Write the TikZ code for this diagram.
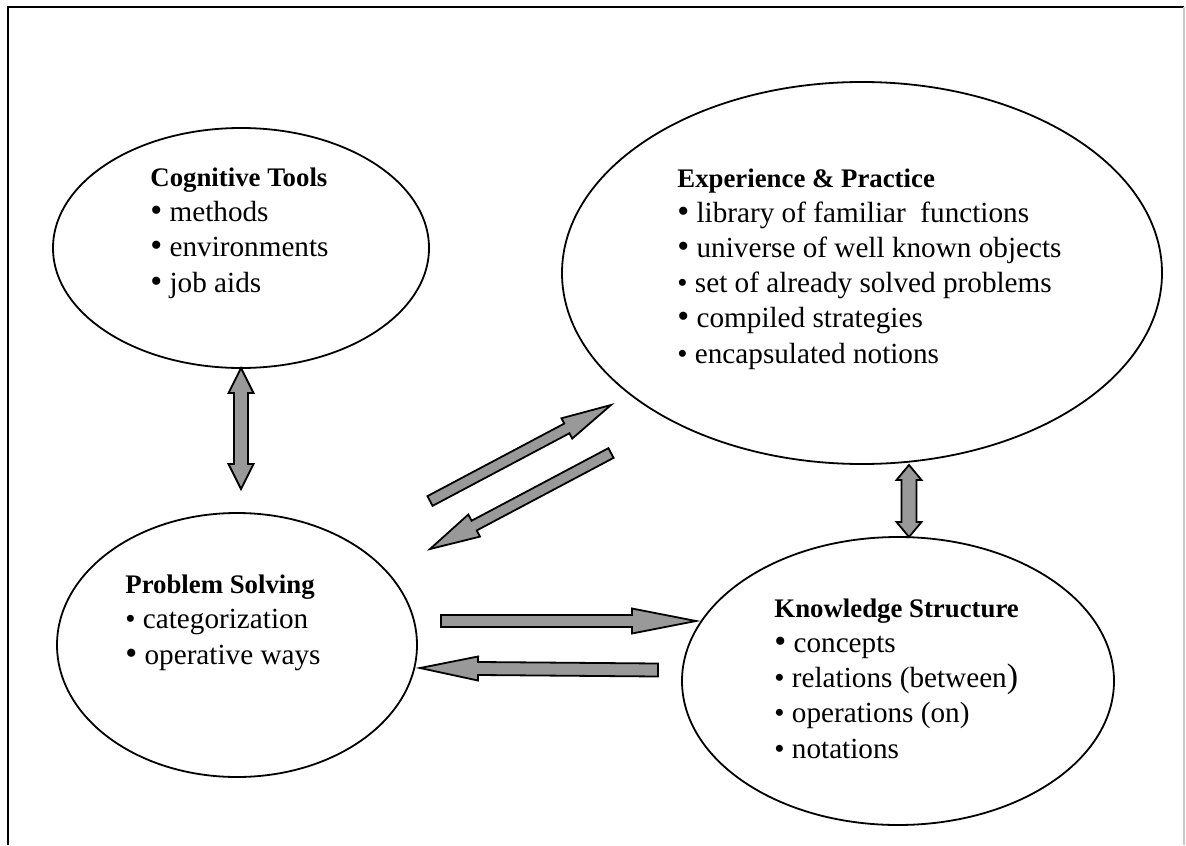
\documentclass[tikz,border=0pt]{standalone}
\usepackage{fontspec}
\setmainfont{Liberation Serif}
\usepackage{tikz}
\usetikzlibrary{calc,shapes.geometric}
\definecolor{arrowgray}{HTML}{999999}
\definecolor{framegray}{HTML}{C8C8C8}

\begin{document}
\begin{tikzpicture}[x=0.5pt, y=-0.5pt,
  blob/.style={ellipse, draw, line width=0.9pt, inner sep=0pt, outer sep=0pt},
  blurb/.style={anchor=base west, align=left, inner sep=0pt, font=\fontsize{14.6}{17.6}\selectfont},
  arrowbody/.style={fill=arrowgray, draw=black, line width=0.9pt}]
  \newcommand{\head}[1]{{\fontsize{13.4}{17.6}\selectfont\bfseries #1}}
  \newcommand{\bul}{\textbullet\ }
  \newcommand{\Bul}{{\fontsize{17}{17}\selectfont\textbullet}\ }
  % tail, tip, half shaft, half head, head length
  \newcommand{\blockarrow}[5]{%
    \coordinate (ah) at ($(#2)!#5!(#1)$);
    \filldraw[arrowbody]
      ($(#1)!#3!90:(#2)$) -- ($(ah)!#3!90:(#2)$) -- ($(ah)!#4!90:(#2)$) -- (#2)
      -- ($(ah)!#4!-90:(#2)$) -- ($(ah)!#3!-90:(#2)$) -- ($(#1)!#3!-90:(#2)$) -- cycle;}
  \newcommand{\twinarrow}[5]{%
    \coordinate (ah) at ($(#1)!#5!(#2)$);
    \coordinate (bh) at ($(#2)!#5!(#1)$);
    \filldraw[arrowbody]
      (#1) -- ($(ah)!#4!90:(#2)$) -- ($(ah)!#3!90:(#2)$) -- ($(bh)!#3!90:(#2)$)
      -- ($(bh)!#4!90:(#2)$) -- (#2) -- ($(bh)!#4!-90:(#2)$) -- ($(bh)!#3!-90:(#2)$)
      -- ($(ah)!#3!-90:(#2)$) -- ($(ah)!#4!-90:(#2)$) -- cycle;}

  \useasboundingbox (0,0) rectangle (1186,845);
  \draw[line width=1pt] (8,845) -- (8,7) -- (1184,7);
  \draw[framegray, line width=0.6pt] (1184,7) -- (1184,845);

  \node[blob, minimum width=188pt, minimum height=120pt] (ct) at (241,248) {};
  \node[blob, minimum width=300pt, minimum height=191pt] (ep) at (862,273) {};
  \node[blob, minimum width=180pt, minimum height=132pt] (ps) at (237,645) {};
  \node[blob, minimum width=216pt, minimum height=144pt] (ks) at (898,681) {};

  % anchored on the last line of each list
  \node[blurb] (ct-text) at (150,292)
    {\head{Cognitive Tools}\\\Bul methods\\\Bul environments\\\Bul job aids};
  \node[blurb] (ep-text) at (677,363)
    {\head{Experience \& Practice}\\\Bul library of familiar\ \ functions\\
     \Bul universe of well known objects\\\bul set of already solved problems\\
     \Bul compiled strategies\\\bul encapsulated notions};
  \node[blurb] (ps-text) at (125,664)
    {\head{Problem Solving}\\\bul categorization\\\Bul operative ways};
  \node[blurb] (ks-text) at (774,758)
    {\head{Knowledge Structure}\\\Bul concepts\\
     \bul relations (between{\fontsize{17}{17}\selectfont)}\\\bul operations (on)\\\bul notations};

  \coordinate (ps-top) at (241,489);
  \coordinate (ep-foot) at (909,465);
  \coordinate (ks-top) at (909,537);
  \coordinate (ps-out) at (430,501);
  \coordinate (ep-in) at (611,405);
  \coordinate (ep-out) at (611,453);
  \coordinate (ps-in) at (430,549);
  \coordinate (ps-right) at (441,621);
  \coordinate (ks-left) at (696,621);
  \coordinate (ks-back) at (658,670);
  \coordinate (ps-back) at (420,668);

  \twinarrow{ct.south}{ps-top}{3.5pt}{6.25pt}{12.5pt}
  \twinarrow{ep-foot}{ks-top}{3.75pt}{6.25pt}{7.5pt}
  \blockarrow{ps-out}{ep-in}{2.75pt}{5.75pt}{25pt}
  \blockarrow{ep-out}{ps-in}{2.75pt}{6.25pt}{25pt}
  \blockarrow{ps-right}{ks-left}{3pt}{6.25pt}{32pt}
  \blockarrow{ks-back}{ps-back}{3.25pt}{6pt}{29pt}
\end{tikzpicture}
\end{document}
